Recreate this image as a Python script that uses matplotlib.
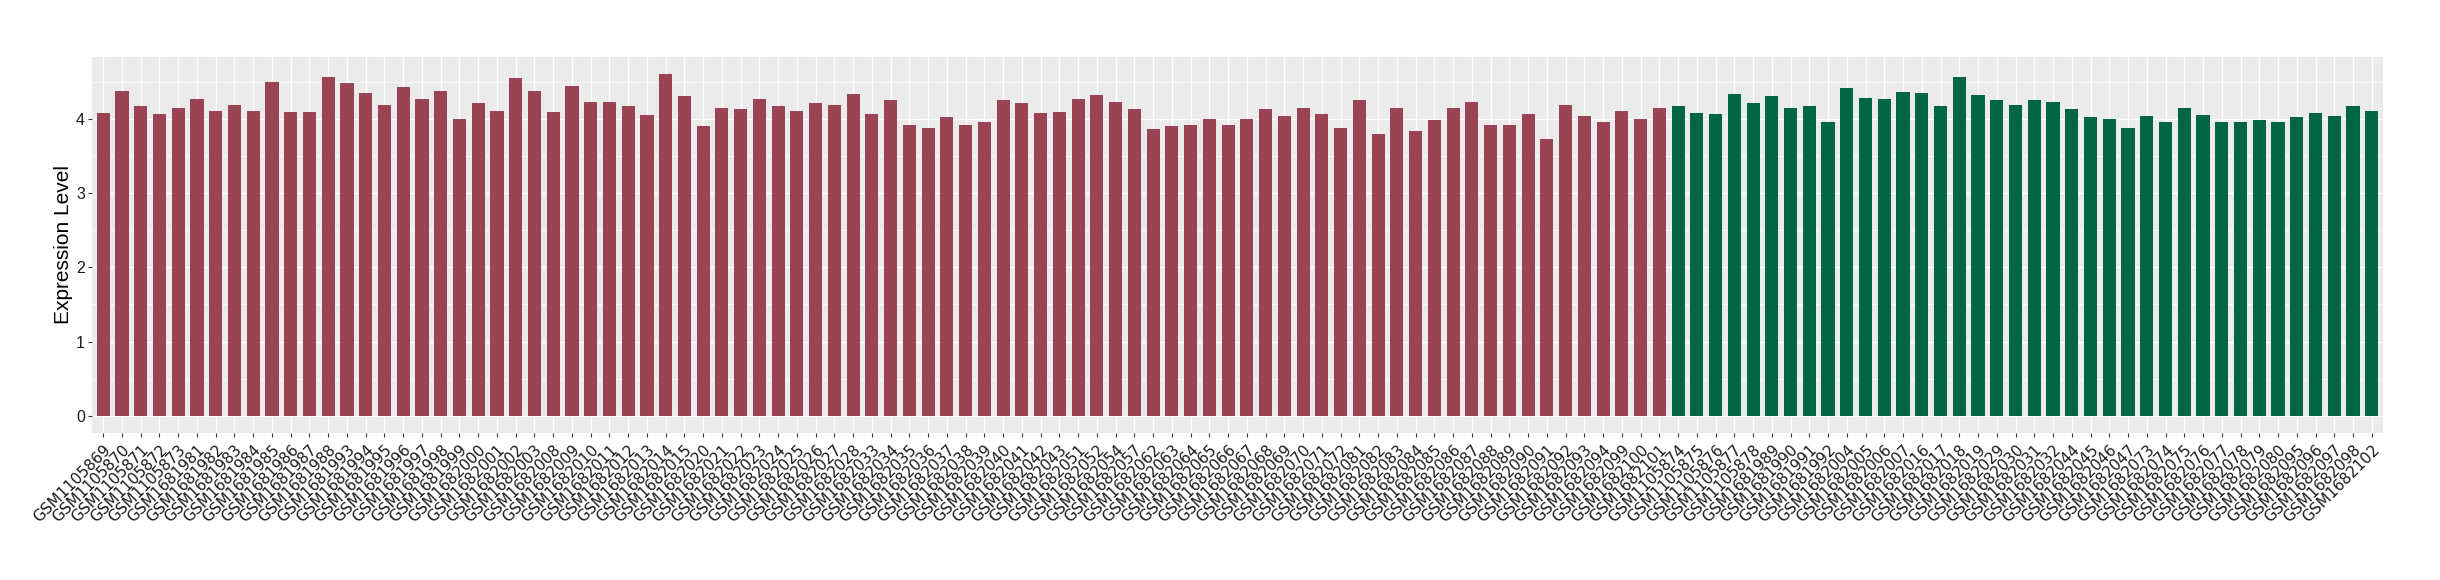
import matplotlib.pyplot as plt
from matplotlib.ticker import MultipleLocator

group_a = [
    "GSM1105869", "GSM1105870", "GSM1105871", "GSM1105872", "GSM1105873",
    "GSM1681981", "GSM1681982", "GSM1681983", "GSM1681984", "GSM1681985",
    "GSM1681986", "GSM1681987", "GSM1681988", "GSM1681993", "GSM1681994",
    "GSM1681995", "GSM1681996", "GSM1681997", "GSM1681998", "GSM1681999",
    "GSM1682000", "GSM1682001", "GSM1682002", "GSM1682003", "GSM1682008",
    "GSM1682009", "GSM1682010", "GSM1682011", "GSM1682012", "GSM1682013",
    "GSM1682014", "GSM1682015", "GSM1682020", "GSM1682021", "GSM1682022",
    "GSM1682023", "GSM1682024", "GSM1682025", "GSM1682026", "GSM1682027",
    "GSM1682028", "GSM1682033", "GSM1682034", "GSM1682035", "GSM1682036",
    "GSM1682037", "GSM1682038", "GSM1682039", "GSM1682040", "GSM1682041",
    "GSM1682042", "GSM1682043", "GSM1682051", "GSM1682052", "GSM1682054",
    "GSM1682057", "GSM1682062", "GSM1682063", "GSM1682064", "GSM1682065",
    "GSM1682066", "GSM1682067", "GSM1682068", "GSM1682069", "GSM1682070",
    "GSM1682071", "GSM1682072", "GSM1682081", "GSM1682082", "GSM1682083",
    "GSM1682084", "GSM1682085", "GSM1682086", "GSM1682087", "GSM1682088",
    "GSM1682089", "GSM1682090", "GSM1682091", "GSM1682092", "GSM1682093",
    "GSM1682094", "GSM1682099", "GSM1682100", "GSM1682101",
]
values_a = [
    4.07, 4.37, 4.17, 4.06, 4.14, 4.26, 4.11, 4.18, 4.10, 4.50,
    4.09, 4.09, 4.56, 4.48, 4.34, 4.18, 4.42, 4.26, 4.37, 4.00,
    4.21, 4.10, 4.55, 4.37, 4.09, 4.44, 4.23, 4.22, 4.17, 4.05,
    4.60, 4.30, 3.90, 4.14, 4.13, 4.26, 4.17, 4.10, 4.21, 4.18,
    4.33, 4.06, 4.25, 3.91, 3.88, 4.02, 3.91, 3.96, 4.25, 4.21,
    4.07, 4.09, 4.26, 4.32, 4.23, 4.13, 3.86, 3.90, 3.92, 3.99,
    3.91, 3.99, 4.13, 4.03, 4.15, 4.06, 3.87, 4.25, 3.80, 4.14,
    3.83, 3.98, 4.15, 4.22, 3.92, 3.91, 4.06, 3.72, 4.19, 4.03,
    3.95, 4.11, 3.99, 4.14,
]

group_b = [
    "GSM1105874", "GSM1105875", "GSM1105876", "GSM1105877", "GSM1105878",
    "GSM1681989", "GSM1681990", "GSM1681991", "GSM1681992", "GSM1682004",
    "GSM1682005", "GSM1682006", "GSM1682007", "GSM1682016", "GSM1682017",
    "GSM1682018", "GSM1682019", "GSM1682029", "GSM1682030", "GSM1682031",
    "GSM1682032", "GSM1682044", "GSM1682045", "GSM1682046", "GSM1682047",
    "GSM1682073", "GSM1682074", "GSM1682075", "GSM1682076", "GSM1682077",
    "GSM1682078", "GSM1682079", "GSM1682080", "GSM1682095", "GSM1682096",
    "GSM1682097", "GSM1682098", "GSM1682102",
]
values_b = [
    4.17, 4.07, 4.06, 4.33, 4.21, 4.30, 4.14, 4.17, 3.96, 4.41,
    4.28, 4.26, 4.36, 4.34, 4.17, 4.56, 4.32, 4.25, 4.19, 4.25,
    4.22, 4.13, 4.02, 3.99, 3.87, 4.03, 3.95, 4.15, 4.05, 3.95,
    3.95, 3.98, 3.95, 4.02, 4.07, 4.03, 4.17, 4.10,
]

color_a = "#9A4352"
color_b = "#006644"

labels = group_a + group_b
values = values_a + values_b
colors = [color_a] * len(group_a) + [color_b] * len(group_b)
x = list(range(len(labels)))

fig = plt.figure(figsize=(24.4, 5.8), dpi=100)
ax = fig.add_axes([92 / 2440, 147 / 580, (2383 - 92) / 2440, 376 / 580])
ax.set_facecolor("#EBEBEB")

ax.bar(x, values, width=0.7, color=colors, zorder=3)

ax.set_xlim(-0.6, len(labels) - 0.4)
ymax = max(values)
ax.set_ylim(-0.05 * ymax, ymax * 1.05)

ax.yaxis.set_major_locator(MultipleLocator(1))
ax.yaxis.set_minor_locator(MultipleLocator(0.5))
ax.grid(which="major", color="white", linewidth=1.0, zorder=0)
ax.grid(which="minor", axis="y", color="white", linewidth=0.5, zorder=0)
ax.set_axisbelow(True)

ax.set_xticks(x)
ax.set_xticklabels(labels, rotation=45, ha="right", va="top",
                   rotation_mode="anchor", fontsize=11, family="DejaVu Sans")
ax.tick_params(axis="both", which="major", length=3, width=0.8, color="#333333",
               labelcolor="#1A1A1A")
ax.tick_params(axis="y", which="minor", length=0)
ax.tick_params(axis="y", labelsize=11.5, pad=2)
for lbl in ax.get_yticklabels():
    lbl.set_family("Liberation Sans")

for s in ax.spines.values():
    s.set_visible(False)

ax.set_ylabel("Expression Level", fontsize=15, family="Liberation Sans", labelpad=2)

fig.savefig("out.png", dpi=100)
plt.close(fig)
